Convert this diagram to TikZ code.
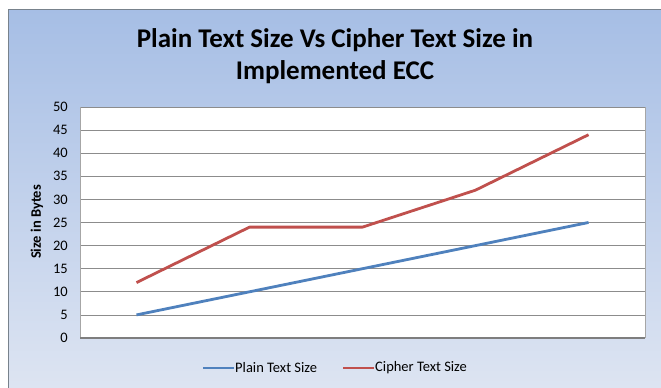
\documentclass[tikz,border=0pt]{standalone}
\usepackage{fontspec}
\setmainfont{Carlito}
\definecolor{bgtop}{RGB}{166,190,229}
\definecolor{bgbot}{RGB}{222,229,242}
\definecolor{plainblue}{RGB}{79,129,189}
\definecolor{cipherred}{RGB}{192,80,77}
\definecolor{gridgray}{RGB}{140,140,140}
\definecolor{framegray}{RGB}{120,130,140}
\tikzset{
  x=1pt, y=-1pt,
  series/.style={line width=2.8pt, line join=round},
  gridline/.style={gridgray, line width=0.8pt},
  ticklabel/.style={anchor=east, font=\fontsize{14.5}{15}\selectfont, inner sep=0pt},
  legendtext/.style={anchor=west, font=\fontsize{14.5}{15}\selectfont, inner sep=0pt},
  titletext/.style={font=\bfseries\fontsize{27}{32}\selectfont, align=center},
}
\begin{document}
\begin{tikzpicture}
% page size and chart background
\useasboundingbox (0,0) rectangle (661,388);
\fill[white] (0,0) rectangle (661,388);
\shade[top color=bgtop, bottom color=bgbot] (8,9) rectangle (668,395);
\draw[framegray, line width=0.8pt] (8,395) -- (8,9) -- (668,9);

% title
\node[titletext] (title) at (335,56) {Plain Text Size Vs Cipher Text Size in\\Implemented ECC};

% plot area
\fill[white] (80,107) rectangle (645,338);
\foreach \v in {5,10,...,50} {
  \draw[gridline] (80,{338-\v*4.62}) -- (645,{338-\v*4.62});
}
\draw[gray!70, line width=0.8pt] (80,107) -- (80,338);
\draw[gray!70, line width=0.8pt] (645,107) -- (645,338);
\draw[gridgray!90!black, line width=1.2pt] (80,338) -- (645,338);
\foreach \v in {0,5,...,50} {
  \node[ticklabel] (tick\v) at (68,{338-\v*4.62}) {\v};
}
\node[rotate=90, font=\bfseries\fontsize{14.5}{15}\selectfont] (ytitle) at (37,222) {Size in Bytes};

% data points
\foreach \i/\p/\c in {1/5/12, 2/10/24, 3/15/24, 4/20/32, 5/25/44} {
  \coordinate (p\i) at ({80+113*(\i-0.5)},{338-\p*4.62});
  \coordinate (c\i) at ({80+113*(\i-0.5)},{338-\c*4.62});
}
\draw[series, plainblue] (p1) -- (p2) -- (p3) -- (p4) -- (p5);
\draw[series, cipherred] (c1) -- (c2) -- (c3) -- (c4) -- (c5);

% legend
\coordinate (lpa) at (203,368);
\coordinate (lpb) at (234,368);
\coordinate (lca) at (343,368);
\coordinate (lcb) at (374,368);
\draw[series, plainblue] (lpa) -- (lpb);
\node[legendtext] (lpt) at (235,368) {Plain Text Size};
\draw[series, cipherred] (lca) -- (lcb);
\node[legendtext] (lct) at (375,368) {Cipher Text Size};
\end{tikzpicture}
\end{document}
